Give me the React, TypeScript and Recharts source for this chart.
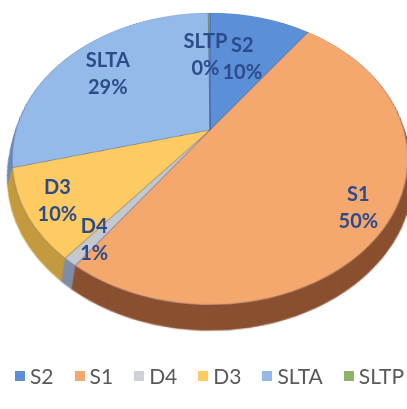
import React from 'react';
import { PieChart, Pie, Cell, Legend } from 'recharts';

// ---- data ----
const names = ['S2', 'S1', 'D4', 'D3', 'SLTA', 'SLTP'];
const values = [10, 50, 1, 10, 29, 0.15];
const topColors = ['#5B8FD8', '#F5A86E', '#C4C8CF', '#FDCB62', '#93BAE8', '#7FAF56'];
const sideColors = ['#3F68A8', '#8A5030', '#7E8DA6', '#C49A3E', '#6C8DB8', '#5A8A3A'];
const legendColors = ['#5B8FD8', '#F5A86E', '#CDD0D6', '#FDCB62', '#93BAE8', '#8DB46A'];

const data = names.map((n, i) => ({ name: n, value: values[i] }));

// ---- geometry / style ----
const W = 407;
const H = 409;
const CX = 210; // screen apex
const CY = 130;
const R = 194;
const TILT = 43.7;
const PERSP = 675;
const DEPTH = 22;
const LAYER_TOP = -100;
const LCY = CY - LAYER_TOP; // center inside 3D layer
const C = Math.cos((TILT * Math.PI) / 180);
const S = Math.sin((TILT * Math.PI) / 180);

const labelRadius: Record<string, number> = { S2: 0.6, SLTP: 0.6, SLTA: 0.72 };
const labelDx: Record<string, number> = { SLTP: -4 };

function project(dx: number, dy: number) {
  const z = dy * S;
  const f = PERSP / (PERSP - z);
  return [dx * f, dy * C * f];
}

const renderLabel = (props: any) => {
  const { cx, cy, midAngle, outerRadius, percent, name } = props;
  const rf = labelRadius[name] ?? 0.85;
  const a = (midAngle * Math.PI) / 180;
  const [px, py] = project(rf * outerRadius * Math.cos(a), -rf * outerRadius * Math.sin(a));
  const X = cx + px + (labelDx[name] ?? 0);
  const Y = cy + py;
  return (
    <text
      fill="#2D4B8A"
      fontFamily="Lato, 'Open Sans', sans-serif"
      fontWeight={700}
      fontSize={20}
      textAnchor="middle"
    >
      <tspan x={X} y={Y - 13.5 + 7}>{name}</tspan>
      <tspan x={X} y={Y + 13.5 + 7}>{`${Math.round(percent * 100)}%`}</tspan>
    </text>
  );
};

const renderLegend = () => (
  <div
    style={{
      display: 'flex',
      justifyContent: 'center',
      alignItems: 'center',
      gap: 21,
      fontFamily: "Lato, 'Open Sans', sans-serif",
      fontSize: 21,
      lineHeight: '26px',
      color: '#595959',
      paddingLeft: 12,
    }}
  >
    {names.map((n, i) => (
      <div key={n} style={{ display: 'flex', alignItems: 'center' }}>
        <span
          style={{ display: 'inline-block', width: 10, height: 10, background: legendColors[i], marginRight: 5 }}
        />
        <span>{n}</span>
      </div>
    ))}
  </div>
);

const depthOffsets = Array.from({ length: DEPTH }, (_, i) => DEPTH - i);

export default function App() {
  return (
    <div
      style={{
        position: 'absolute',
        left: 0,
        top: 0,
        width: W,
        height: H,
        overflow: 'hidden',
        background: '#ffffff',
      }}
    >
      <div
        style={{
          position: 'absolute',
          left: 0,
          top: LAYER_TOP,
          width: 420,
          height: 640,
          zIndex: 1,
          transformOrigin: `${CX}px ${LCY}px`,
          transform: `perspective(${PERSP}px) rotateX(${TILT}deg)`,
        }}
      >
        <PieChart width={420} height={640} margin={{ top: 0, left: 0, right: 0, bottom: 0 }}>
          {depthOffsets.map((k) => (
            <Pie
              key={`d${k}`}
              data={data}
              dataKey="value"
              nameKey="name"
              cx={CX}
              cy={LCY + k}
              outerRadius={R}
              startAngle={90}
              endAngle={-270}
              stroke="none"
              isAnimationActive={false}
            >
              {data.map((d, i) => (
                <Cell key={d.name} fill={sideColors[i]} stroke={sideColors[i]} strokeWidth={0.5} />
              ))}
            </Pie>
          ))}
          <Pie
            data={data}
            dataKey="value"
            nameKey="name"
            cx={CX}
            cy={LCY}
            outerRadius={R}
            startAngle={90}
            endAngle={-270}
            isAnimationActive={false}
          >
            {data.map((d, i) => (
              <Cell key={d.name} fill={topColors[i]} stroke="rgba(45,60,110,0.3)" strokeWidth={1} />
            ))}
          </Pie>
        </PieChart>
      </div>
      <div style={{ position: 'absolute', left: 0, top: 0, width: W, height: H, zIndex: 2 }}>
        <PieChart width={W} height={H} margin={{ top: 0, left: 0, right: 0, bottom: 0 }}>
          <Pie
            data={data}
            dataKey="value"
            nameKey="name"
            cx={CX}
            cy={CY}
            outerRadius={R}
            startAngle={90}
            endAngle={-270}
            fill="none"
            stroke="none"
            fillOpacity={0}
            label={renderLabel}
            labelLine={false}
            isAnimationActive={false}
          >
            {data.map((d) => (
              <Cell key={d.name} fill="transparent" stroke="none" />
            ))}
          </Pie>
          <Legend
            content={renderLegend}
            wrapperStyle={{ position: 'absolute', left: 0, top: 363, width: W }}
          />
        </PieChart>
      </div>
    </div>
  );
}
